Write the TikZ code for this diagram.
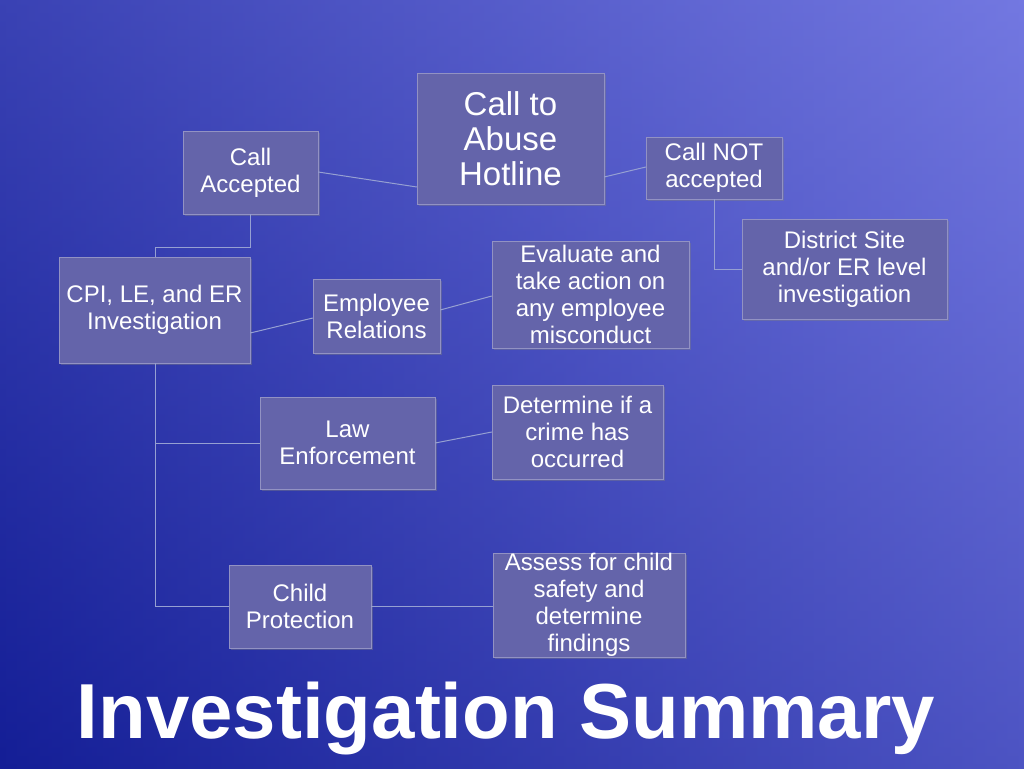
\documentclass[tikz,border=0pt]{standalone}
\usepackage{fontspec}
\setmainfont{Liberation Sans}
\usetikzlibrary{positioning,shadows}
\definecolor{bgdark}{RGB}{20,30,150}
\definecolor{bglight}{RGB}{115,120,225}
\definecolor{boxfill}{RGB}{100,100,170}
\definecolor{linecol}{RGB}{150,160,210}
\tikzset{
  stepbox/.style={draw=boxfill!70!white,fill=boxfill,text=white,align=center,
    inner sep=0pt,drop shadow={opacity=0.4,shadow xshift=2pt,shadow yshift=-2pt},
    font=\fontsize{24}{27}\selectfont},
  bigbox/.style={font=\fontsize{33}{35}\selectfont},
  link/.style={draw=linecol,line width=1pt}
}
\newcommand{\boxat}[7][]{% options, name, x1, y1, x2, y2, text
  \node[stepbox,#1,minimum width=#5-#3,minimum height=#6-#4] (#2)
    at ({(#3+#5)/2},{(#4+#6)/2}) {#7};}
\begin{document}
\begin{tikzpicture}[x=1pt,y=-1pt]
	
	% 背景
	\shade[left color=bgdark,right color=bglight] (0,0) rectangle (1024,768);
	\shade[top color=bglight,bottom color=bgdark,opacity=0.4] (0,0) rectangle (1024,768);
	\useasboundingbox (0,0) rectangle (1024,768);
	
	% 方框
	\boxat[bigbox]{hotline}{417}{73}{604}{204}{Call to\\Abuse\\Hotline}
	\boxat{accepted}{183}{131}{318}{214}{Call\\Accepted}
	\boxat{notacc}{646}{137}{782}{199}{Call NOT\\accepted}
	\boxat{district}{742}{219}{947}{319}{District Site\\and/or ER level\\investigation}
	\boxat{cpi}{59}{257}{250}{363}{CPI, LE, and ER\\Investigation}
	\boxat{emprel}{313}{279}{440}{353}{Employee\\Relations}
	\boxat{evaluate}{492}{241}{689}{348}{Evaluate and\\take action on\\any employee\\misconduct}
	\boxat{law}{260}{397}{435}{489}{Law\\Enforcement}
	\boxat{crime}{492}{385}{663}{479}{Determine if a\\crime has\\occurred}
	\boxat{child}{229}{565}{371}{648}{Child\\Protection}
	\boxat{assess}{493}{553}{685}{657}{Assess for child\\safety and\\determine\\findings}
	
	% 连线
	\coordinate (split) at (155,247);
	\coordinate (trunk) at (155,606);
	\draw[link] (hotline.west |- 0,187) -- (accepted.east |- 0,172);
	\draw[link] (hotline.east |- 0,177) -- (notacc.west |- 0,167);
	\draw[link] (notacc.south) |- (district.west);
	\draw[link] (accepted.south) |- (split) -- (cpi.north -| split);
	\draw[link] (cpi.east |- 0,333) -- (emprel.west |- 0,318);
	\draw[link] (emprel.east |- 0,310) -- (evaluate.west |- 0,296);
	\draw[link] (cpi.south -| trunk) -- (trunk) -- (child.west |- trunk);
	\draw[link] (law.west -| trunk) -- (law.west);
	\draw[link] (law.east) -- (crime.west);
	\draw[link] (child.east |- trunk) -- (assess.west |- trunk);
	
	% 标题
	\node[text=white,font=\fontsize{78}{84}\bfseries] (title) at (506,718)
	  {Investigation Summary};
	
\end{tikzpicture}
\end{document}
